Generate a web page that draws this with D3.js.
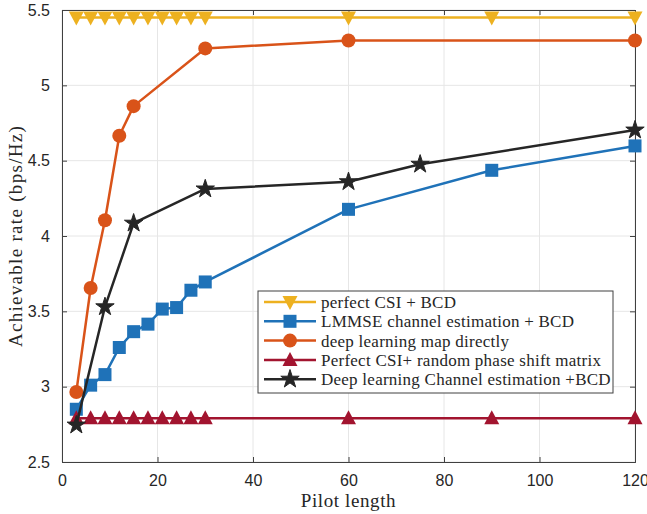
<!DOCTYPE html>
<html>
<head>
<meta charset="utf-8">
<script src="https://cdn.jsdelivr.net/npm/d3@7"></script>
<style>
  body { margin: 0; background: #fff; }
</style>
</head>
<body>
<div id="chart"></div>
<script>
(function() {

    var w = 647;
    var h = 514;

    var sansFont = "'Liberation Sans', Arial, sans-serif";
    var serifFont = "'Liberation Serif', 'Times New Roman', serif";

    // pilot lengths
    var xDense = [3, 6, 9, 12, 15, 18, 21, 24, 27, 30, 60, 90, 120];
    var xOrange = [3, 6, 9, 12, 15, 30, 60, 120];
    var xBlack = [3, 9, 15, 30, 60, 75, 120];

    // achievable rates (bps/Hz)
    var perfectCSI = [5.45, 5.45, 5.45, 5.45, 5.45, 5.45, 5.45, 5.45, 5.45, 5.45, 5.45, 5.45, 5.45];
    var lmmse = [2.85, 3.01, 3.08, 3.26, 3.365, 3.415, 3.515, 3.525, 3.64, 3.695, 4.177, 4.436, 4.598];
    var dlMap = [2.965, 3.655, 4.105, 4.665, 4.862, 5.245, 5.298, 5.298];
    var randomPhase = [2.79, 2.79, 2.79, 2.79, 2.79, 2.79, 2.79, 2.79, 2.79, 2.79, 2.79, 2.79, 2.79];
    var dlChannel = [2.745, 3.53, 4.085, 4.312, 4.36, 4.476, 4.703];

    var xTicks = [0, 20, 40, 60, 80, 100, 120];
    var yTicks = [2.5, 3, 3.5, 4, 4.5, 5, 5.5];

    var series = [
        { name: "perfect CSI + BCD", x: xDense, y: perfectCSI, color: "#EDB120", marker: "tridown" },
        { name: "LMMSE channel estimation + BCD", x: xDense, y: lmmse, color: "#1f72b8", marker: "square" },
        { name: "deep learning map directly", x: xOrange, y: dlMap, color: "#D95319", marker: "circle" },
        { name: "Perfect CSI+ random phase shift matrix", x: xDense, y: randomPhase, color: "#A2142F", marker: "triup" },
        { name: "Deep learning Channel estimation +BCD", x: xBlack, y: dlChannel, color: "#262626", marker: "star" }
    ];

    var margin = { left: 62, right: 12, top: 10, bottom: 52 };

    var svg = d3.select("#chart")
        .append("svg")
        .attr("width", w)
        .attr("height", h);

    var xScale = d3.scaleLinear().domain([0, 120]).range([margin.left, w - margin.right]);
    var yScale = d3.scaleLinear().domain([2.5, 5.5]).range([h - margin.bottom, margin.top]);

    var x0 = xScale.range()[0], x1 = xScale.range()[1];
    var y0 = yScale.range()[0], y1 = yScale.range()[1];

    // grid
    svg.append("g")
        .selectAll("line.gx")
        .data(xTicks)
        .enter()
        .append("line")
        .attr("x1", function(d) { return xScale(d); })
        .attr("x2", function(d) { return xScale(d); })
        .attr("y1", y0)
        .attr("y2", y1)
        .attr("stroke", "#e6e6e6")
        .attr("stroke-width", 1);

    svg.append("g")
        .selectAll("line.gy")
        .data(yTicks)
        .enter()
        .append("line")
        .attr("x1", x0)
        .attr("x2", x1)
        .attr("y1", function(d) { return yScale(d); })
        .attr("y2", function(d) { return yScale(d); })
        .attr("stroke", "#e6e6e6")
        .attr("stroke-width", 1);

    // axes (ticks pointing inward, matlab style)
    var xAxis = svg.append("g")
        .attr("transform", "translate(0," + y0 + ")")
        .call(d3.axisBottom(xScale).tickValues(xTicks).tickSize(-5).tickPadding(13).tickFormat(d3.format("d")));
    var xAxisTop = svg.append("g")
        .attr("transform", "translate(0," + y1 + ")")
        .call(d3.axisTop(xScale).tickValues(xTicks).tickSize(-5).tickFormat(""));
    var yAxis = svg.append("g")
        .attr("transform", "translate(" + x0 + ",0)")
        .call(d3.axisLeft(yScale).tickValues(yTicks).tickSize(-5).tickPadding(12).tickFormat(function(d) { return d3.format("")(d); }));
    var yAxisRight = svg.append("g")
        .attr("transform", "translate(" + x1 + ",0)")
        .call(d3.axisRight(yScale).tickValues(yTicks).tickSize(-5).tickFormat(""));

    [xAxis, xAxisTop, yAxis, yAxisRight].forEach(function(a) {
        a.attr("font-family", sansFont).attr("font-size", 16);
        a.select(".domain").attr("stroke", "#404040").attr("stroke-width", 1);
        a.selectAll(".tick line").attr("stroke", "#404040");
        a.selectAll(".tick text").attr("fill", "#262626");
    });
    xAxis.selectAll(".tick text").attr("dy", "0.71em");

    // markers
    function drawMarker(g, type, color) {
        if (type === "tridown") {
            g.append("path").attr("d", "M-7.5,-6 L7.5,-6 L0,8 Z").attr("fill", color);
        } else if (type === "triup") {
            g.append("path").attr("d", "M-7.5,6 L7.5,6 L0,-8 Z").attr("fill", color);
        } else if (type === "square") {
            g.append("rect").attr("x", -6.5).attr("y", -6.5).attr("width", 13).attr("height", 13).attr("fill", color);
        } else if (type === "circle") {
            g.append("circle").attr("r", 7).attr("fill", color);
        } else if (type === "star") {
            g.append("path").attr("d", d3.symbol().type(d3.symbolStar).size(105)()).attr("fill", color)
                .attr("stroke", color).attr("stroke-width", 1);
        }
    }

    var line = d3.line()
        .x(function(d) { return xScale(d[0]); })
        .y(function(d) { return yScale(d[1]); });

    series.forEach(function(s) {
        var pts = s.x.map(function(v, i) { return [v, s.y[i]]; });
        var g = svg.append("g");
        g.append("path")
            .datum(pts)
            .attr("d", line)
            .attr("fill", "none")
            .attr("stroke", s.color)
            .attr("stroke-width", 2.5)
            .attr("stroke-linejoin", "round");
        pts.forEach(function(p) {
            var m = g.append("g").attr("transform", "translate(" + xScale(p[0]) + "," + yScale(p[1]) + ")");
            drawMarker(m, s.marker, s.color);
        });
    });

    // axis labels
    svg.append("text")
        .attr("font-family", serifFont)
        .attr("fill", "#262626")
        .attr("x", (x0 + x1) / 2)
        .attr("y", 507)
        .attr("text-anchor", "middle")
        .attr("font-size", 19)
        .attr("letter-spacing", "0.6px")
        .text("Pilot length");

    svg.append("text")
        .attr("font-family", serifFont)
        .attr("fill", "#262626")
        .attr("transform", "translate(22," + ((y0 + y1) / 2) + ") rotate(-90)")
        .attr("text-anchor", "middle")
        .attr("font-size", 19)
        .attr("letter-spacing", "1.3px")
        .text("Achievable rate (bps/Hz)");

    // legend
    var lg = svg.append("g").attr("transform", "translate(258,291)");
    lg.append("rect")
        .attr("width", 355)
        .attr("height", 102)
        .attr("fill", "#fff")
        .attr("stroke", "#404040")
        .attr("stroke-width", 1);

    series.forEach(function(s, i) {
        var yy = 11 + i * 19.3;
        var row = lg.append("g").attr("transform", "translate(0," + yy + ")");
        row.append("line")
            .attr("x1", 6).attr("x2", 58)
            .attr("stroke", s.color).attr("stroke-width", 2.5);
        var m = row.append("g").attr("transform", "translate(32,0)");
        drawMarker(m, s.marker, s.color);
        row.append("text")
            .attr("font-family", serifFont)
            .attr("fill", "#262626")
            .attr("x", 63)
            .attr("dy", "0.35em")
            .attr("font-size", 17)
            .attr("letter-spacing", "0.25px")
            .text(s.name);
    });

})();
</script>
</body>
</html>
